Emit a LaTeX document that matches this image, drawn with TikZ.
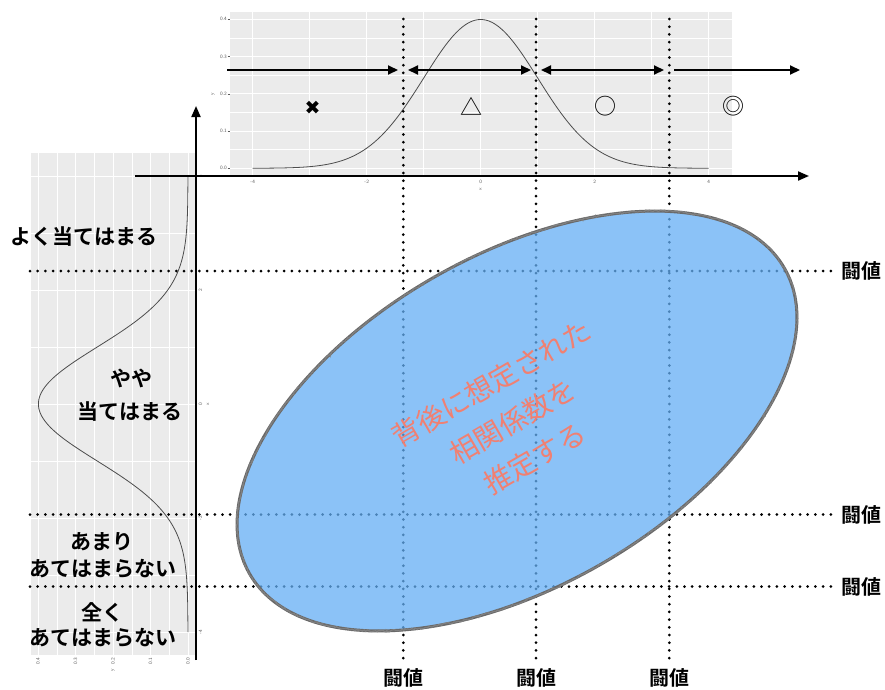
\documentclass[tikz,border=0pt]{standalone}
\usepackage{fontspec}
\newfontfamily\jp{Noto Sans CJK JP}[BoldFont={Noto Sans CJK JP Bold}]
\newfontfamily\symfont{DejaVu Sans}
\usetikzlibrary{arrows.meta,decorations.pathmorphing}
\definecolor{panelc}{RGB}{235,235,235}
\definecolor{salmonc}{RGB}{240,128,114}
\definecolor{ellfill}{RGB}{100,174,244}
\definecolor{ellline}{RGB}{105,105,105}
\definecolor{tickc}{RGB}{90,90,90}
\begin{document}
\begin{tikzpicture}[x=1pt,y=-1pt,
  panelbg/.style={fill=panelc,draw=none},
  majorgrid/.style={draw=white,line width=0.9pt},
  minorgrid/.style={draw=white,line width=0.45pt},
  dens/.style={draw=black!70,line width=0.8pt},
  axarrow/.style={line width=2pt,-{Triangle[length=11pt,width=9pt]}},
  onehead/.style={line width=2pt,-{Triangle[length=10pt,width=9pt]}},
  twohead/.style={line width=2pt,{Triangle[length=10pt,width=9pt]}-{Triangle[length=10pt,width=9pt]}},
  dotline/.style={line width=3pt,line cap=round,dash pattern=on 0pt off 7.7pt},
  ticklab/.style={font=\sffamily\fontsize{5}{6}\selectfont,text=tickc,inner sep=0pt},
  tickmark/.style={draw=tickc,line width=0.4pt},
  thr/.style={font=\jp\bfseries\fontsize{20}{24}\selectfont,inner sep=0pt},
  catlab/.style={font=\jp\bfseries\fontsize{21}{25}\selectfont,inner sep=0pt},
  sym/.style={font=\jp\fontsize{22}{24}\selectfont,inner sep=0pt},
  centertext/.style={font=\jp\fontsize{28}{43}\selectfont,text=salmonc,align=center,inner sep=0pt},
  ellfillstyle/.style={fill=ellfill,fill opacity=0.75,draw=none},
  ellrim/.style={draw=ellline,line width=3pt},
  ellrough/.style={draw=ellline!85,line width=1.2pt,decorate,decoration={random steps,segment length=1.5pt,amplitude=0.9pt}}
]
\useasboundingbox (0,0) rectangle (885,689);

% ---------- left (rotated) density panel ----------
\fill[panelbg] (30.5,153.2) rectangle (195.5,654.8);
\foreach \v in {0.05,0.15,0.25,0.35}
  \draw[minorgrid] ({188-375*\v},153.2) -- ({188-375*\v},654.8);
\foreach \t in {-3,-1,1,3}
  \draw[minorgrid] (30.5,{404-57*\t}) -- (195.5,{404-57*\t});
\foreach \v in {0,0.1,0.2,0.3,0.4}
  \draw[majorgrid] ({188-375*\v},153.2) -- ({188-375*\v},654.8);
\foreach \t in {-4,-2,0,2,4}
  \draw[majorgrid] (30.5,{404-57*\t}) -- (195.5,{404-57*\t});
\draw[dens] plot[domain=-4:4,samples=140,smooth] ({188-375*0.398942*exp(-0.5*\x*\x)},{404-57*\x});
\foreach \t [count=\i] in {-4,-2,0,2,4}
  \node[ticklab,rotate=90] (lt\i) at (200.5,{404-57*\t}) {\t};
\foreach \v/\l [count=\i] in {0/0.0,0.1/0.1,0.2/0.2,0.3/0.3,0.4/0.4}
  \node[ticklab,rotate=90] (ld\i) at ({188-375*\v},661) {\l};
\node[ticklab,rotate=90] (lx) at (208,404) {x};
\node[ticklab,rotate=90] (ly) at (113,670) {y};

% ---------- top density panel ----------
\fill[panelbg] (230,11.6) rectangle (731.5,175.8);
\foreach \t in {-3,-1,1,3}
  \draw[minorgrid] ({480.7+57*\t},11.6) -- ({480.7+57*\t},175.8);
\foreach \v in {0.05,0.15,0.25,0.35}
  \draw[minorgrid] (230,{168.3-373*\v}) -- (731.5,{168.3-373*\v});
\foreach \t in {-4,-2,0,2,4}
  \draw[majorgrid] ({480.7+57*\t},11.6) -- ({480.7+57*\t},175.8);
\foreach \v in {0,0.1,0.2,0.3,0.4}
  \draw[majorgrid] (230,{168.3-373*\v}) -- (731.5,{168.3-373*\v});
\draw[dens] plot[domain=-4:4,samples=140,smooth] ({480.7+57*\x},{168.3-373*0.398942*exp(-0.5*\x*\x)});
\foreach \v/\l [count=\i] in {0/0.0,0.1/0.1,0.2/0.2,0.3/0.3,0.4/0.4}{
  \draw[tickmark] (227.5,{168.3-373*\v}) -- (230,{168.3-373*\v});
  \node[ticklab,anchor=east] (ty\i) at (227,{168.3-373*\v}) {\l};}
\foreach \t [count=\i] in {-4,-2,0,2,4}
  \node[ticklab] (tx\i) at ({480.7+57*\t},182) {\t};
\node[ticklab] (tax) at (480.7,189) {x};
\node[ticklab,rotate=90] (tay) at (213,94) {y};

% ---------- main axes ----------
\coordinate (hx0) at (135,176);
\coordinate (hx1) at (809,176);
\coordinate (vy0) at (196,660);
\coordinate (vy1) at (196,106);
\draw[axarrow] (hx0) -- (hx1);
\draw[axarrow] (vy0) -- (vy1);

% ---------- range arrows ----------
\coordinate (r1a) at (227,70);  \coordinate (r1b) at (398,70);
\coordinate (r2a) at (408,70);  \coordinate (r2b) at (531,70);
\coordinate (r3a) at (541,70);  \coordinate (r3b) at (664,70);
\coordinate (r4a) at (674,70);  \coordinate (r4b) at (800,70);
\draw[onehead] (r1a) -- (r1b);
\draw[twohead] (r2a) -- (r2b);
\draw[twohead] (r3a) -- (r3b);
\draw[onehead] (r4a) -- (r4b);

% ---------- evaluation symbols ----------
\node[inner sep=0pt,font=\symfont\fontsize{19}{21}\selectfont] (s1) at (312.5,108) {✖};
\node[sym] (s2) at (471,106) {△};
\node[sym] (s3) at (605,106) {○};
\node[sym] (s4) at (733,106) {◎};

% ---------- threshold dotted lines ----------
\coordinate (v1t) at (403.3,19);  \coordinate (v1b) at (403.3,660);
\coordinate (v2t) at (536,19);    \coordinate (v2b) at (536,660);
\coordinate (v3t) at (669.3,19);  \coordinate (v3b) at (669.3,660);
\coordinate (h1l) at (30,271);    \coordinate (h1r) at (832,271);
\coordinate (h2l) at (30,514.5);  \coordinate (h2r) at (832,514.5);
\coordinate (h3l) at (30,586.5);  \coordinate (h3r) at (832,586.5);
\draw[dotline] (v1t) -- (v1b);
\draw[dotline] (v2t) -- (v2b);
\draw[dotline] (v3t) -- (v3b);
\draw[dotline] (h1l) -- (h1r);
\draw[dotline] (h2l) -- (h2r);
\draw[dotline] (h3l) -- (h3r);

% ---------- ellipse ----------
\fill[ellfillstyle,shift={(517,421)},rotate=29.7] (0,0) ellipse [x radius=308,y radius=166];
\draw[ellrim,shift={(517,421)},rotate=29.7] (0,0) ellipse [x radius=308,y radius=166];
\draw[ellrough,shift={(517,421)},rotate=29.7] (0,0) ellipse [x radius=308,y radius=166];
\node[centertext,rotate=30] (ctext) at (513,421) {背後に想定された\\相関係数を\\推定する};

% ---------- threshold labels ----------
\node[thr] (t1) at (861,271) {闘値};
\node[thr] (t2) at (861,515) {闘値};
\node[thr] (t3) at (861,587) {闘値};
\node[thr] (b1) at (403.3,678) {闘値};
\node[thr] (b2) at (536,678) {闘値};
\node[thr] (b3) at (669.3,678) {闘値};

% ---------- category labels ----------
\node[catlab] (c1) at (84,237) {よく当てはまる};
\node[catlab] (c2a) at (131,378) {やや};
\node[catlab] (c2b) at (130,411) {当てはまる};
\node[catlab] (c3a) at (102,542) {あまり};
\node[catlab] (c3b) at (103,569) {あてはまらない};
\node[catlab] (c4a) at (102,612) {全く};
\node[catlab] (c4b) at (103,638) {あてはまらない};
\end{tikzpicture}
\end{document}
